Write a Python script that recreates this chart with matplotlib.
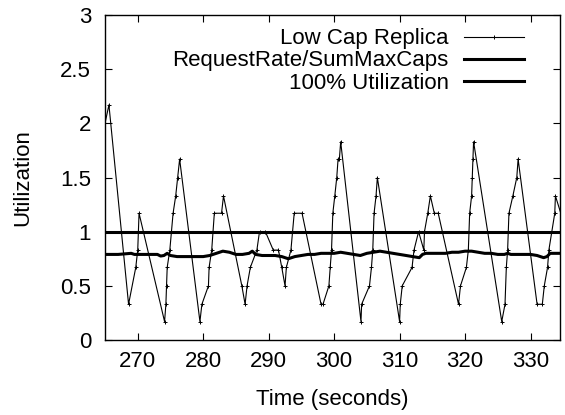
import matplotlib
matplotlib.use("Agg")
import matplotlib.pyplot as plt

# Low Cap Replica utilization (time in s, utilization)
low_t = [265.0, 265.6, 268.6, 269.7, 270.0, 270.2,
         274.1, 274.3, 274.4, 274.5, 274.9, 275.4, 275.8, 276.1, 276.4,
         279.5, 279.8, 280.8, 280.9, 281.3, 281.7, 282.8, 283.1,
         285.9, 286.4, 286.7, 287.2, 288.2, 288.6, 289.5, 290.7, 291.5,
         292.0, 292.5, 292.7, 293.4, 293.9, 295.1,
         298.0, 298.3, 299.2, 299.4, 299.6, 299.8, 300.1, 300.4, 300.6, 300.8, 301.0,
         304.1, 304.2, 305.4, 305.7, 305.9, 306.1, 306.4, 306.6,
         310.0, 310.1, 310.4, 311.9, 312.2, 312.9, 313.7, 313.8, 314.3, 314.7,
         315.3, 315.9,
         319.0, 319.3, 320.2, 320.5, 320.7, 321.0, 321.1, 321.2, 321.3,
         325.6, 326.1, 326.3, 326.5, 326.7, 327.3, 327.9, 328.1,
         331.0, 331.8, 332.1, 332.6, 332.8, 333.7, 333.8, 335.5]
low_u = [2.0, 2.17, 0.33, 0.67, 0.83, 1.17,
         0.17, 0.33, 0.5, 0.67, 0.83, 1.17, 1.33, 1.5, 1.67,
         0.17, 0.33, 0.5, 0.67, 0.83, 1.17, 1.17, 1.33,
         0.5, 0.33, 0.5, 0.67, 0.83, 1.0, 1.0, 0.83, 0.83,
         0.67, 0.5, 0.67, 0.83, 1.17, 1.17,
         0.33, 0.33, 0.5, 0.67, 0.83, 1.17, 1.33, 1.5, 1.67, 1.67, 1.83,
         0.17, 0.33, 0.5, 0.67, 0.83, 1.17, 1.33, 1.5,
         0.17, 0.33, 0.5, 0.67, 0.83, 1.0, 0.83, 1.0, 1.17, 1.33,
         1.17, 1.17,
         0.33, 0.5, 0.67, 0.83, 1.17, 1.33, 1.5, 1.67, 1.83,
         0.17, 0.33, 0.67, 0.83, 1.17, 1.33, 1.5, 1.67,
         0.33, 0.33, 0.5, 0.67, 0.83, 1.17, 1.33, 1.0]

# RequestRate/SumMaxCaps
rate_t = [265, 266, 267, 268, 269, 269.5, 270, 271, 272, 273, 273.5, 274, 274.5,
          275, 276, 277, 278, 279, 280, 281, 282, 283, 284, 285, 286, 287, 287.5,
          288, 289, 290, 291, 292, 293, 294, 295, 296, 297, 298, 299, 300, 301,
          302, 303, 304, 305, 306, 307, 308, 309, 310, 311, 312, 313, 313.5, 314,
          315, 316, 317, 318, 319, 320, 321, 322, 323, 324, 325, 326, 326.5, 327,
          328, 329, 330, 331, 332, 332.5, 333, 334, 335]
rate_u = [0.79, 0.79, 0.79, 0.795, 0.80, 0.79, 0.79, 0.79, 0.79, 0.79, 0.775, 0.78, 0.80,
          0.78, 0.77, 0.77, 0.77, 0.77, 0.77, 0.78, 0.80, 0.82, 0.81, 0.79, 0.79, 0.80, 0.82,
          0.79, 0.78, 0.78, 0.78, 0.77, 0.75, 0.77, 0.78, 0.79, 0.79, 0.80, 0.80, 0.80, 0.81,
          0.80, 0.79, 0.78, 0.80, 0.81, 0.82, 0.81, 0.80, 0.79, 0.78, 0.77, 0.76, 0.79, 0.80,
          0.80, 0.80, 0.80, 0.81, 0.81, 0.82, 0.82, 0.81, 0.80, 0.80, 0.79, 0.79, 0.80, 0.79,
          0.79, 0.79, 0.79, 0.78, 0.76, 0.77, 0.80, 0.80, 0.80]

full_util = 1.0

x_ticks = [270, 280, 290, 300, 310, 320, 330]
y_ticks = [0, 0.5, 1, 1.5, 2, 2.5, 3]
y_labels = ["0", "0.5", "1", "1.5", "2", "2.5", "3"]

plt.rcParams["font.family"] = ["Liberation Sans", "DejaVu Sans"]
plt.rcParams["font.size"] = 16

fig = plt.figure(figsize=(5.65, 4.15), dpi=100)
ax = fig.add_axes([105 / 565, 1 - 340 / 415, 455 / 565, 325 / 415])

ax.plot(low_t, low_u, color="black", lw=0.8, marker="+", markersize=3,
        markeredgewidth=0.7, label="Low Cap Replica")
ax.plot(rate_t, rate_u, color="black", lw=2.2, label="RequestRate/SumMaxCaps")
ax.axhline(full_util, color="black", lw=2.2, label="100% Utilization")

ax.set_xlim(265, 334.5)
ax.set_ylim(0, 3)
ax.set_xticks(x_ticks)
ax.set_yticks(y_ticks)
ax.set_yticklabels(y_labels)
ax.tick_params(direction="in", length=5, width=0.8, top=True, right=True)
ax.tick_params(axis="x", pad=8)
ax.tick_params(axis="y", pad=10)
for s in ax.spines.values():
    s.set_linewidth(1.0)

ax.set_xlabel("Time (seconds)", labelpad=12)
ax.set_ylabel("Utilization", labelpad=19)

ax.legend(loc="upper right", bbox_to_anchor=(0.951, 1.0), frameon=False,
          markerfirst=False, handlelength=2.7, labelspacing=0.05,
          handletextpad=0.7, borderaxespad=0.2)

fig.savefig("out.png", dpi=100)
